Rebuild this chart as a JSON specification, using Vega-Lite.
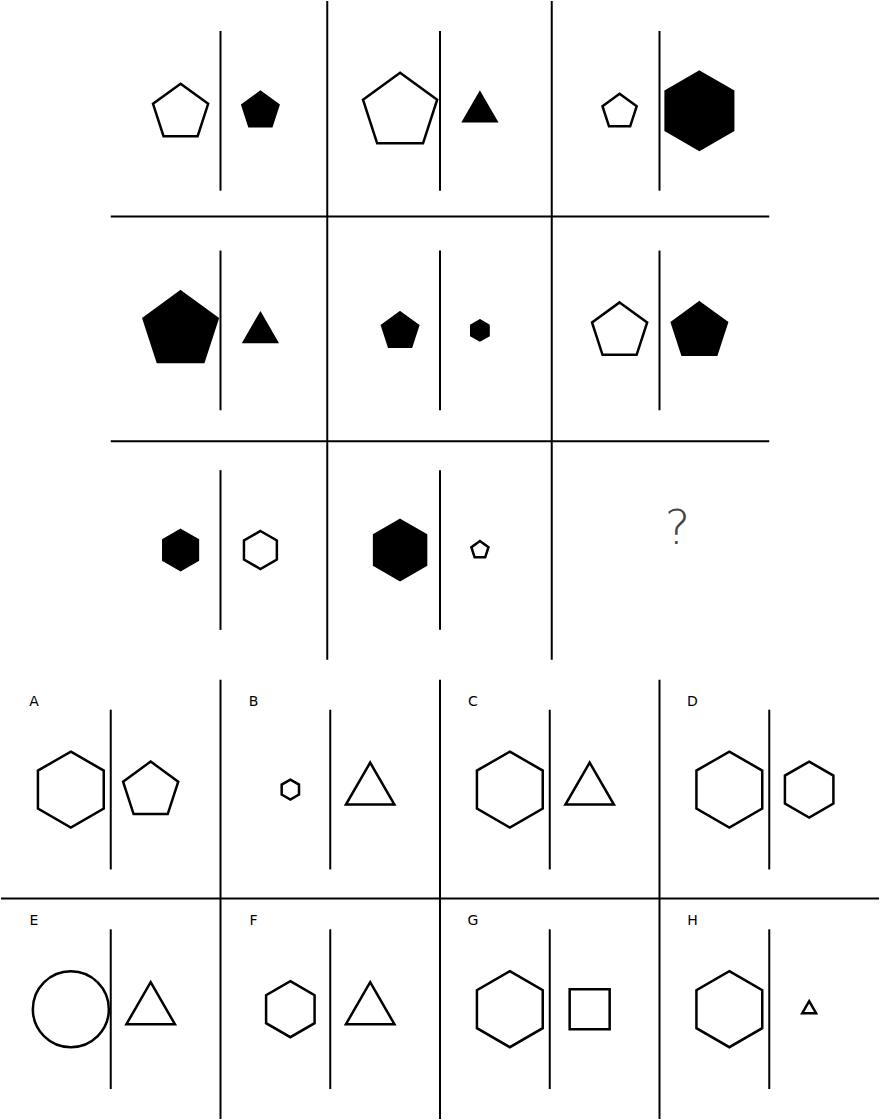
{
  "$schema": "https://vega.github.io/schema/vega-lite/v6.json",
  "width": 880,
  "height": 1120,
  "autosize": {"type": "fit", "contains": "padding"},
  "padding": 0,
  "background": "white",
  "config": {"view": {"stroke": null}},
  "datasets": {
    "lines": [
      {"x": 327, "y": 0, "x2": 327, "y2": 660},
      {"x": 552, "y": 0, "x2": 552, "y2": 660},
      {"x": 110, "y": 216, "x2": 770, "y2": 216},
      {"x": 110, "y": 441, "x2": 770, "y2": 441},
      {"x": 220, "y": 30, "x2": 220, "y2": 190},
      {"x": 440, "y": 30, "x2": 440, "y2": 190},
      {"x": 660, "y": 30, "x2": 660, "y2": 190},
      {"x": 220, "y": 250, "x2": 220, "y2": 410},
      {"x": 440, "y": 250, "x2": 440, "y2": 410},
      {"x": 660, "y": 250, "x2": 660, "y2": 410},
      {"x": 220, "y": 470, "x2": 220, "y2": 630},
      {"x": 440, "y": 470, "x2": 440, "y2": 630},
      {"x": 220, "y": 680, "x2": 220, "y2": 1120},
      {"x": 440, "y": 680, "x2": 440, "y2": 1120},
      {"x": 660, "y": 680, "x2": 660, "y2": 1120},
      {"x": 0, "y": 899, "x2": 880, "y2": 899},
      {"x": 110, "y": 710, "x2": 110, "y2": 870},
      {"x": 330, "y": 710, "x2": 330, "y2": 870},
      {"x": 550, "y": 710, "x2": 550, "y2": 870},
      {"x": 770, "y": 710, "x2": 770, "y2": 870},
      {"x": 110, "y": 930, "x2": 110, "y2": 1090},
      {"x": 330, "y": 930, "x2": 330, "y2": 1090},
      {"x": 550, "y": 930, "x2": 550, "y2": 1090},
      {"x": 770, "y": 930, "x2": 770, "y2": 1090}
    ],
    "labels": [
      {"x": 33, "y": 702, "t": "A"}, {"x": 253, "y": 702, "t": "B"},
      {"x": 473, "y": 702, "t": "C"}, {"x": 693, "y": 702, "t": "D"},
      {"x": 33, "y": 922, "t": "E"}, {"x": 253, "y": 922, "t": "F"},
      {"x": 473, "y": 922, "t": "G"}, {"x": 693, "y": 922, "t": "H"}
    ],
    "shapes": [
      {"x": 180, "y": 112, "r": 29, "shape": "pentagon", "fill": "white"},
      {"x": 260, "y": 110, "r": 19, "shape": "pentagon", "fill": "black"},
      {"x": 400, "y": 111, "r": 39, "shape": "pentagon", "fill": "white"},
      {"x": 480, "y": 111, "r": 19, "shape": "triangle", "fill": "black"},
      {"x": 620, "y": 111, "r": 18, "shape": "pentagon", "fill": "white"},
      {"x": 700, "y": 110, "r": 39, "shape": "hexagon", "fill": "black"},
      {"x": 180, "y": 330, "r": 39, "shape": "pentagon", "fill": "black"},
      {"x": 260, "y": 332, "r": 19, "shape": "triangle", "fill": "black"},
      {"x": 400, "y": 331, "r": 19, "shape": "pentagon", "fill": "black"},
      {"x": 480, "y": 330, "r": 10, "shape": "hexagon", "fill": "black"},
      {"x": 620, "y": 331, "r": 29, "shape": "pentagon", "fill": "white"},
      {"x": 700, "y": 331, "r": 29, "shape": "pentagon", "fill": "black"},
      {"x": 180, "y": 550, "r": 20, "shape": "hexagon", "fill": "black"},
      {"x": 260, "y": 550, "r": 19, "shape": "hexagon", "fill": "white"},
      {"x": 400, "y": 550, "r": 30, "shape": "hexagon", "fill": "black"},
      {"x": 480, "y": 550, "r": 9, "shape": "pentagon", "fill": "white"},
      {"x": 70, "y": 790, "r": 38, "shape": "hexagon", "fill": "white"},
      {"x": 150, "y": 791, "r": 29, "shape": "pentagon", "fill": "white"},
      {"x": 290, "y": 790, "r": 10, "shape": "hexagon", "fill": "white"},
      {"x": 370, "y": 791, "r": 28, "shape": "triangle", "fill": "white"},
      {"x": 510, "y": 790, "r": 38, "shape": "hexagon", "fill": "white"},
      {"x": 590, "y": 791, "r": 28, "shape": "triangle", "fill": "white"},
      {"x": 730, "y": 790, "r": 38, "shape": "hexagon", "fill": "white"},
      {"x": 810, "y": 790, "r": 28, "shape": "hexagon", "fill": "white"},
      {"x": 70, "y": 1010, "r": 38, "shape": "circle", "fill": "white"},
      {"x": 150, "y": 1011, "r": 28, "shape": "triangle", "fill": "white"},
      {"x": 290, "y": 1010, "r": 28, "shape": "hexagon", "fill": "white"},
      {"x": 370, "y": 1011, "r": 28, "shape": "triangle", "fill": "white"},
      {"x": 510, "y": 1010, "r": 38, "shape": "hexagon", "fill": "white"},
      {"x": 590, "y": 1010, "r": 20, "shape": "square", "fill": "white"},
      {"x": 730, "y": 1010, "r": 38, "shape": "hexagon", "fill": "white"},
      {"x": 810, "y": 1010, "r": 8, "shape": "triangle", "fill": "white"}
    ]
  },
  "layer": [
    {
      "data": {"name": "lines"},
      "mark": {"type": "rule", "color": "black", "strokeWidth": 2},
      "encoding": {
        "x": {"field": "x", "type": "quantitative", "scale": {"domain": [0, 880], "nice": false, "zero": false}, "axis": null},
        "y": {"field": "y", "type": "quantitative", "scale": {"domain": [1120, 0], "nice": false, "zero": false}, "axis": null},
        "x2": {"field": "x2"},
        "y2": {"field": "y2"}
      }
    },
    {
      "data": {"name": "shapes"},
      "mark": {"type": "point", "filled": true, "stroke": "black", "strokeWidth": 2.5, "opacity": 1},
      "encoding": {
        "x": {"field": "x", "type": "quantitative"},
        "y": {"field": "y", "type": "quantitative"},
        "size": {"field": "r", "type": "quantitative", "scale": {"type": "pow", "exponent": 2, "domain": [0, 40], "range": [0, 6400]}, "legend": null},
        "shape": {"field": "shape", "type": "nominal", "legend": null, "scale": {
          "domain": ["pentagon", "triangle", "hexagon", "circle", "square"],
          "range": [
            "M0,-1L0.951,-0.309L0.588,0.809L-0.588,0.809L-0.951,-0.309Z",
            "M0,-1L0.866,0.5L-0.866,0.5Z",
            "M0,-1L0.866,-0.5L0.866,0.5L0,1L-0.866,0.5L-0.866,-0.5Z",
            "circle",
            "square"
          ]}},
        "fill": {"field": "fill", "type": "nominal", "legend": null, "scale": {"domain": ["black", "white"], "range": ["black", "white"]}}
      }
    },
    {
      "data": {"name": "labels"},
      "mark": {"type": "text", "font": "DejaVu Sans", "fontSize": 14, "fontWeight": "normal", "align": "center", "baseline": "middle", "color": "black"},
      "encoding": {
        "x": {"field": "x", "type": "quantitative"},
        "y": {"field": "y", "type": "quantitative"},
        "text": {"field": "t"}
      }
    },
    {
      "data": {"values": [{"x": 678, "y": 530, "t": "?"}]},
      "mark": {"type": "text", "font": "DejaVu Sans", "fontSize": 48, "fontWeight": 100, "align": "center", "baseline": "middle", "color": "#444"},
      "encoding": {
        "x": {"field": "x", "type": "quantitative"},
        "y": {"field": "y", "type": "quantitative"},
        "text": {"field": "t"}
      }
    }
  ]
}
